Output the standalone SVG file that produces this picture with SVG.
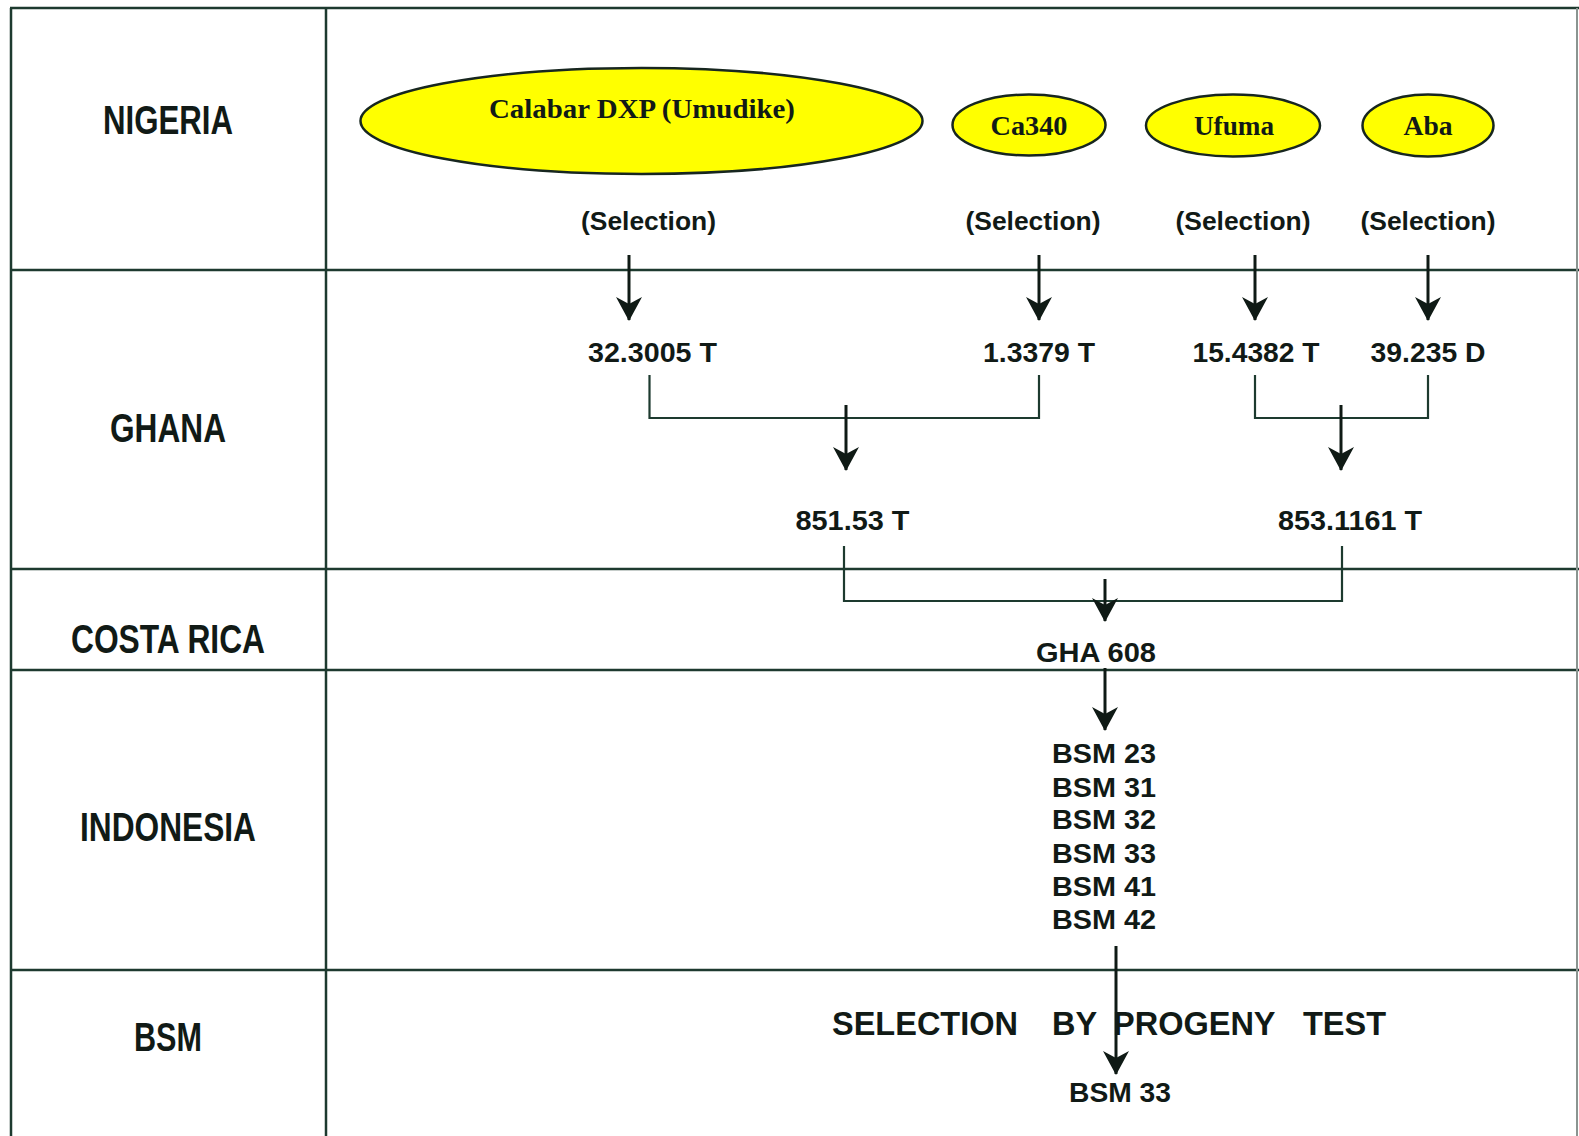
<svg xmlns="http://www.w3.org/2000/svg" width="1579" height="1136" viewBox="0 0 1579 1136">
<style>
.grid{stroke:#1d3a2f;stroke-width:2.5;fill:none}
.gridr{stroke:#8a9490;stroke-width:2;fill:none}
.ell{fill:#ffff00;stroke:#17261f;stroke-width:2.5}
.lbl{font-family:"Liberation Sans",Arial,sans-serif;font-weight:bold;fill:#111a16}
.country{font-size:40px;text-anchor:middle}
.num{font-size:28px;text-anchor:middle}
.sel{font-size:25px;text-anchor:middle}
.big{font-size:32.5px}
.ser{font-family:"Liberation Serif","Times New Roman",serif;font-weight:bold;font-size:28px;text-anchor:middle;fill:#111a16}
.arr{stroke:#0f1a15;stroke-width:3;fill:none;marker-end:url(#ah)}
.br{stroke:#1d3a2f;stroke-width:2.2;fill:none}
</style>
<defs>
<marker id="ah" markerUnits="userSpaceOnUse" viewBox="0 0 24 26" markerWidth="24" markerHeight="26" refX="23" refY="13" orient="auto">
<path d="M0,0 L24,13 L0,26 L7,13 Z" fill="#0f1a15"/>
</marker>
</defs>
<rect width="1579" height="1136" fill="#ffffff"/>
<g id="table">
<line class="grid" x1="10" y1="8" x2="1579" y2="8"/>
<line class="grid" x1="10" y1="270" x2="1579" y2="270"/>
<line class="grid" x1="10" y1="569" x2="1579" y2="569"/>
<line class="grid" x1="10" y1="670" x2="1579" y2="670"/>
<line class="grid" x1="10" y1="970" x2="1579" y2="970"/>
<line class="grid" x1="11" y1="8" x2="11" y2="1136"/>
<line class="grid" x1="326" y1="8" x2="326" y2="1136"/>
<line class="gridr" x1="1577" y1="8" x2="1577" y2="1136"/>
</g>
<g id="row-labels">
<text class="lbl country" x="168" y="134" textLength="130" lengthAdjust="spacingAndGlyphs">NIGERIA</text>
<text class="lbl country" x="168" y="442" textLength="116" lengthAdjust="spacingAndGlyphs">GHANA</text>
<text class="lbl country" x="168" y="653" textLength="194" lengthAdjust="spacingAndGlyphs">COSTA RICA</text>
<text class="lbl country" x="168" y="841" textLength="176" lengthAdjust="spacingAndGlyphs">INDONESIA</text>
<text class="lbl country" x="168" y="1051" textLength="68" lengthAdjust="spacingAndGlyphs">BSM</text>
</g>
<g id="connectors">
<line class="arr" x1="629" y1="255" x2="629" y2="320"/>
<line class="arr" x1="1039" y1="255" x2="1039" y2="320"/>
<line class="arr" x1="1255" y1="255" x2="1255" y2="320"/>
<line class="arr" x1="1428" y1="255" x2="1428" y2="320"/>
<path class="br" d="M649.5,375 V418 H1039 V375"/>
<line class="arr" x1="846" y1="405" x2="846" y2="470"/>
<path class="br" d="M1255,375 V418 H1428 V375"/>
<line class="arr" x1="1341" y1="405" x2="1341" y2="470"/>
<path class="br" d="M844,546 V601 H1342 V546"/>
<line class="arr" x1="1105" y1="579" x2="1105" y2="621"/>
<line class="arr" x1="1105" y1="668" x2="1105" y2="730"/>
<line class="arr" x1="1116" y1="946" x2="1116" y2="1074"/>
</g>
<g id="node-calabar">
<ellipse class="ell" cx="641.5" cy="121" rx="281" ry="53"/>
<text class="ser" x="642" y="118" textLength="306" lengthAdjust="spacingAndGlyphs">Calabar DXP (Umudike)</text>
</g>
<g id="node-ca340">
<ellipse class="ell" cx="1029" cy="125" rx="76.5" ry="30.5"/>
<text class="ser" x="1029" y="135" textLength="77" lengthAdjust="spacingAndGlyphs">Ca340</text>
</g>
<g id="node-ufuma">
<ellipse class="ell" cx="1233" cy="125.5" rx="87" ry="31"/>
<text class="ser" x="1234" y="135" textLength="80" lengthAdjust="spacingAndGlyphs">Ufuma</text>
</g>
<g id="node-aba">
<ellipse class="ell" cx="1428" cy="125.5" rx="65.5" ry="31"/>
<text class="ser" x="1428" y="135" textLength="49" lengthAdjust="spacingAndGlyphs">Aba</text>
</g>
<g id="selection-labels">
<text class="lbl sel" x="648.5" y="230" textLength="135" lengthAdjust="spacingAndGlyphs">(Selection)</text>
<text class="lbl sel" x="1033" y="230" textLength="135" lengthAdjust="spacingAndGlyphs">(Selection)</text>
<text class="lbl sel" x="1243" y="230" textLength="135" lengthAdjust="spacingAndGlyphs">(Selection)</text>
<text class="lbl sel" x="1428" y="230" textLength="135" lengthAdjust="spacingAndGlyphs">(Selection)</text>
</g>
<g id="node-32-3005">
<text class="lbl num" x="652.5" y="362" textLength="129" lengthAdjust="spacingAndGlyphs">32.3005 T</text>
</g>
<g id="node-1-3379">
<text class="lbl num" x="1039" y="362" textLength="112" lengthAdjust="spacingAndGlyphs">1.3379 T</text>
</g>
<g id="node-15-4382">
<text class="lbl num" x="1256" y="362" textLength="127" lengthAdjust="spacingAndGlyphs">15.4382 T</text>
</g>
<g id="node-39-235">
<text class="lbl num" x="1428" y="362" textLength="115" lengthAdjust="spacingAndGlyphs">39.235 D</text>
</g>
<g id="node-851-53">
<text class="lbl num" x="852.5" y="530" textLength="114" lengthAdjust="spacingAndGlyphs">851.53 T</text>
</g>
<g id="node-853-1161">
<text class="lbl num" x="1350" y="530" textLength="144" lengthAdjust="spacingAndGlyphs">853.1161 T</text>
</g>
<g id="node-gha608">
<text class="lbl num" x="1096" y="662" textLength="120" lengthAdjust="spacingAndGlyphs">GHA 608</text>
</g>
<g id="node-bsm-list">
<text class="lbl num" x="1104" y="763" textLength="104" lengthAdjust="spacingAndGlyphs">BSM 23</text>
<text class="lbl num" x="1104" y="796.5" textLength="104" lengthAdjust="spacingAndGlyphs">BSM 31</text>
<text class="lbl num" x="1104" y="829" textLength="104" lengthAdjust="spacingAndGlyphs">BSM 32</text>
<text class="lbl num" x="1104" y="863" textLength="104" lengthAdjust="spacingAndGlyphs">BSM 33</text>
<text class="lbl num" x="1104" y="896" textLength="104" lengthAdjust="spacingAndGlyphs">BSM 41</text>
<text class="lbl num" x="1104" y="929" textLength="104" lengthAdjust="spacingAndGlyphs">BSM 42</text>
</g>
<g id="label-progeny">
<text class="lbl big" y="1035"><tspan x="832">SELECTION</tspan><tspan x="1052">BY</tspan><tspan x="1113">PROGENY</tspan><tspan x="1303">TEST</tspan></text>
</g>
<g id="node-bsm33">
<text class="lbl num" x="1120" y="1102" textLength="102" lengthAdjust="spacingAndGlyphs">BSM 33</text>
</g>
</svg>
